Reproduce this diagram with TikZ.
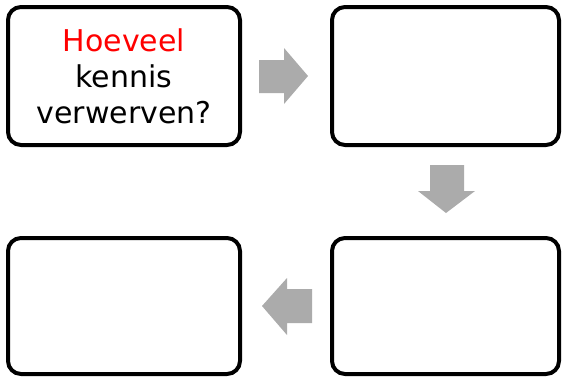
\documentclass[tikz,border=0pt]{standalone}
\usepackage{fontspec}
\setmainfont{DejaVu Sans}
\begin{document}
\begin{tikzpicture}[x=1pt,y=-1pt,
  stepbox/.style={draw=black,line width=4pt,rounded corners=13pt,fill=white},
  flowarrow/.style={fill=black!33,draw=none}]
\useasboundingbox (0,0) rectangle (562,378);
\draw[stepbox] (8,7) rectangle (240,145);
\draw[stepbox] (332,7) rectangle (559,145);
\draw[stepbox] (332,238) rectangle (559,374);
\draw[stepbox] (8,238) rectangle (240,374);
\coordinate (tl) at (124,76);
\node[align=center,font=\fontsize{30}{36}\selectfont,inner sep=0pt] (txt) at (tl)
  {\textcolor{red}{Hoeveel}\\kennis\\verwerven?};
% right arrow
\fill[flowarrow] (259,60) -- (284,60) -- (284,48) -- (308,76) -- (284,104) -- (284,93) -- (259,93) -- cycle;
% down arrow
\fill[flowarrow] (430,165) -- (464,165) -- (464,191) -- (475,191) -- (446,213) -- (418,191) -- (430,191) -- cycle;
% left arrow
\fill[flowarrow] (312,289) -- (287,289) -- (287,278) -- (262,306) -- (287,335) -- (287,323) -- (312,323) -- cycle;
\end{tikzpicture}
\end{document}
